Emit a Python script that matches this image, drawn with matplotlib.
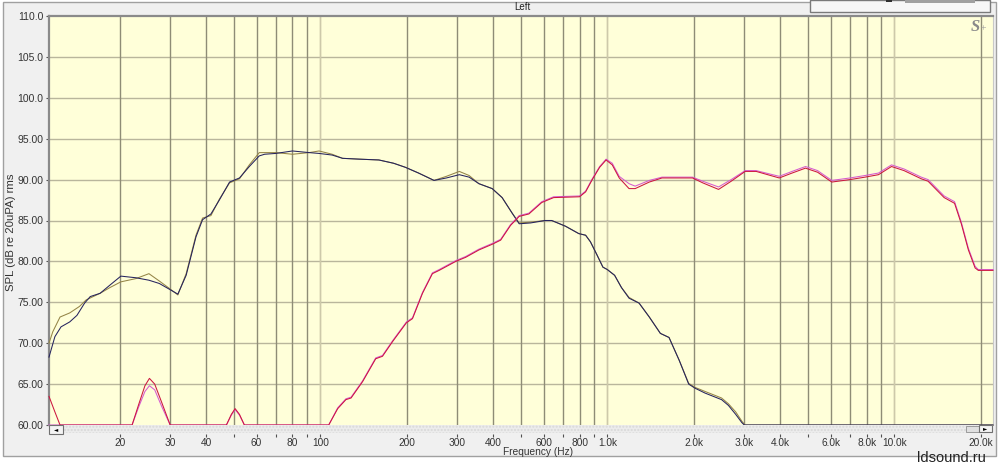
import numpy as np
import matplotlib
matplotlib.use('Agg')
from matplotlib import pyplot as plt
from matplotlib.patches import Rectangle
from matplotlib.ticker import FixedLocator, NullFormatter

plt.rcParams['font.family'] = ['Liberation Sans', 'DejaVu Sans']

# woofer, channel 1 (dark blue)
w1_f = [11.35, 11.9, 12.5, 13.4, 14.2, 15.1, 15.8, 17.1, 18.5, 20.2, 22.8, 25.3, 27.5, 29.8,
        31.9, 34.1, 36.9, 38.9, 41.6, 44.5, 48.3, 52.3, 56.6, 61.3, 64, 70, 80, 91.5, 99,
        110, 119.6, 136.7, 160, 180, 198, 220, 249, 275, 305, 330, 357, 397, 430, 466, 493,
        540, 607, 640, 715, 795, 840, 873, 920, 965, 1000, 1060, 1120, 1190, 1290, 1400,
        1530, 1640, 1780, 1920, 2020, 2190, 2500, 2640, 2800, 2940, 3000, 22050]
w1_db = [68.3, 70.8, 72.0, 72.6, 73.4, 74.9, 75.7, 76.1, 77.1, 78.2, 78.0, 77.7, 77.3, 76.6,
         76.0, 78.3, 83.0, 85.1, 85.8, 87.5, 89.7, 90.2, 91.6, 92.9, 93.1, 93.2, 93.5, 93.3, 93.2,
         93.0, 92.6, 92.5, 92.4, 92.0, 91.5, 90.8, 89.9, 90.2, 90.6, 90.3, 89.5, 88.9, 87.8, 85.9, 84.6,
         84.7, 85.0, 85.0, 84.3, 83.4, 83.2, 82.4, 80.8, 79.3, 79.0, 78.3, 76.8, 75.5, 74.9, 73.2,
         71.2, 70.7, 67.9, 65.0, 64.5, 63.9, 63.1, 62.4, 61.3, 60.3, 60.0, 60.0]

# woofer, channel 2 (olive)
w2_f = [11.35, 11.7, 12.4, 13.4, 14.5, 15.3, 17.1, 18.5, 20.2, 22.8, 25.3, 27.5, 29.8,
        31.9, 34.1, 36.9, 38.9, 41.6, 44.5, 48.3, 52.3, 56.6, 61.3, 70, 80, 91.5, 99,
        110, 119.6, 136.7, 160, 180, 198, 220, 249, 275, 305, 330, 357, 397, 430, 466, 493,
        540, 607, 640, 715, 795, 840, 873, 920, 965, 1000, 1060, 1120, 1190, 1290, 1400,
        1530, 1640, 1780, 1920, 2020, 2190, 2500, 2640, 2800, 2950, 3020, 22050]
w2_db = [70.0, 71.4, 73.2, 73.7, 74.5, 75.3, 76.1, 76.8, 77.5, 77.9, 78.5, 77.6, 76.7,
         75.9, 78.5, 83.2, 85.3, 85.6, 87.6, 89.6, 90.1, 91.8, 93.3, 93.3, 93.1, 93.3, 93.5,
         93.1, 92.6, 92.5, 92.4, 92.0, 91.5, 90.8, 89.9, 90.4, 91.0, 90.5, 89.5, 88.9, 87.8, 85.9, 84.7,
         84.8, 85.0, 85.0, 84.3, 83.4, 83.2, 82.4, 80.8, 79.3, 79.0, 78.3, 76.8, 75.6, 74.9, 73.2,
         71.2, 70.7, 67.9, 65.1, 64.6, 64.1, 63.3, 62.6, 61.6, 60.4, 60.0, 60.0]

# tweeter, channel 1 (red)
t1_f = [11.35, 11.9, 12.4, 22.1, 23.3, 24.5, 25.4, 26.5, 28, 30, 47.1, 49, 50.5, 52.3, 54.4,
        107, 115, 122.8, 128, 140.4, 156, 164.7, 178.6, 199.6, 209.5, 227, 245.8, 259.4,
        296.5, 321, 357, 397.5, 425, 460, 493, 533, 591, 650, 800, 840, 886, 940, 990, 1040,
        1100, 1190, 1250, 1400, 1550, 1980, 2150, 2440, 2700, 3020, 3300, 3970, 4400, 4900,
        5400, 6050, 7000, 7900, 8800, 9770, 10800, 12400, 13100, 14900, 16200, 17100, 18100,
        19100, 19600, 22050]
t1_db = [63.5, 61.6, 60.0, 60.0, 62.5, 64.8, 65.7, 65.0, 62.8, 60.0, 60.0, 61.3, 62.0, 61.3, 60.0,
         60.0, 62.0, 63.1, 63.3, 65.3, 68.1, 68.4, 70.2, 72.5, 73.0, 76.1, 78.5, 78.9,
         80.0, 80.5, 81.4, 82.1, 82.6, 84.4, 85.5, 85.8, 87.2, 87.8, 87.9, 88.5, 90.0, 91.5, 92.4, 91.8,
         90.2, 88.9, 88.9, 89.7, 90.2, 90.2, 89.6, 88.8, 89.8, 91.0, 91.0, 90.2, 90.8, 91.4,
         90.9, 89.7, 90.0, 90.3, 90.6, 91.6, 91.1, 90.1, 89.8, 87.8, 87.1, 84.6, 81.4,
         79.2, 78.9, 78.9]

# tweeter, channel 2 (magenta)
t2_f = [11.35, 22.1, 23.3, 24.5, 25.4, 26.5, 28, 30, 47.1, 49, 50.5, 52.3, 54.4,
        107, 115, 122.8, 128, 140.4, 156, 164.7, 178.6, 199.6, 209.5, 227, 245.8, 259.4,
        296.5, 321, 357, 397.5, 425, 460, 493, 533, 591, 650, 800, 840, 886, 940, 990, 1040,
        1100, 1190, 1250, 1400, 1550, 1980, 2150, 2440, 2700, 3020, 3300, 3970, 4400, 4900,
        5400, 6050, 7000, 7900, 8800, 9770, 10800, 12400, 13100, 14900, 16200, 17100, 18100,
        19100, 19600, 22050]
t2_db = [60.0, 60.0, 62.2, 64.1, 64.8, 64.3, 62.3, 60.0, 60.0, 61.2, 61.9, 61.2, 60.0,
         60.0, 62.1, 63.2, 63.4, 65.4, 68.2, 68.5, 70.3, 72.6, 73.1, 76.2, 78.6, 79.0,
         80.1, 80.6, 81.5, 82.2, 82.7, 84.5, 85.6, 85.9, 87.3, 87.9, 88.0, 88.6, 90.1, 91.6, 92.5, 92.0,
         90.4, 89.5, 89.2, 89.9, 90.3, 90.3, 89.8, 89.1, 90.0, 91.1, 91.1, 90.4, 91.0, 91.6,
         91.1, 89.9, 90.2, 90.5, 90.8, 91.8, 91.3, 90.3, 90.0, 88.0, 87.3, 84.8, 81.6,
         79.4, 79.0, 79.0]

major_f = [20, 30, 40, 60, 80, 100, 200, 300, 400, 600, 800, 1000, 2000, 3000, 4000,
           6000, 8000, 10000, 20000]
major_lab = ['20', '30', '40', '60', '80', '100', '200', '300', '400', '600', '800', '1.0k',
             '2.0k', '3.0k', '4.0k', '6.0k', '8.0k', '10.0k', '20.0k']
minor_f = [50, 70, 90, 500, 700, 900, 5000, 7000, 9000]
light_f = [100, 1000, 10000]
y_ticks = [60, 65, 70, 75, 80, 85, 90, 95, 100, 105, 110]
y_lab = ['60.00', '65.00', '70.00', '75.00', '80.00', '85.00', '90.00', '95.00',
         '100.0', '105.0', '110.0']

W, H = 998, 467
fig = plt.figure(figsize=(W / 100, H / 100), dpi=100, facecolor='white')

# window frame
fig.patches.append(Rectangle((3 / W, 1 - 456 / H), 993 / W, 454 / H, transform=fig.transFigure,
                             facecolor='#f0f0f0', edgecolor='#a0a0a0', lw=1, zorder=-10))
# legend box stub at top right
fig.patches.append(Rectangle((810 / W, 1 - 12 / H), 180 / W, 12 / H, transform=fig.transFigure,
                             facecolor='#f7f7f7', edgecolor='#7a7a7a', lw=1, zorder=1))
fig.patches.append(Rectangle((905 / W, 1 - 3 / H), 70 / W, 3 / H, transform=fig.transFigure,
                             facecolor='#a0a0a0', edgecolor='none', zorder=2))
fig.patches.append(Rectangle((886 / W, 1 - 2 / H), 6 / W, 2 / H, transform=fig.transFigure,
                             facecolor='#303030', edgecolor='none', zorder=2))

ax = fig.add_axes([49 / W, 1 - 425 / H, 944 / W, 409 / H])
ax.set_facecolor('#ffffd9')
ax.set_xscale('log')
ax.set_xlim(11.35, 22050)
ax.set_ylim(60, 110)

# grid
for y in y_ticks[1:-1]:
    ax.axhline(y, color='#b9b69c', lw=1, zorder=1)
for f in major_f + minor_f + light_f:
    c = '#cdc9aa' if f in light_f else '#8e8c76'
    ax.axvline(f, color=c, lw=1, zorder=1)

ax.plot(w2_f, w2_db, color='#948446', lw=0.75, zorder=3, clip_on=False)
ax.plot(w1_f, w1_db, color='#25235e', lw=0.75, zorder=4, clip_on=False)
ax.plot(t2_f, t2_db, color='#d65ad0', lw=0.75, zorder=5, clip_on=False)
ax.plot(t1_f, t1_db, color='#cc1640', lw=0.75, zorder=6, clip_on=False)

ax.set_xticks(major_f)
ax.set_xticklabels(major_lab)
ax.xaxis.set_minor_locator(FixedLocator(minor_f))
ax.xaxis.set_minor_formatter(NullFormatter())
ax.set_yticks(y_ticks)
ax.set_yticklabels(y_lab)

ax.spines['bottom'].set_position(('outward', 6.5))
ax.spines['bottom'].set_color('none')
ax.spines['left'].set_color('#8a8a8a')
ax.spines['left'].set_linewidth(1.6)
ax.spines['top'].set_color('#8a8a8a')
ax.spines['top'].set_linewidth(1.6)
ax.spines['right'].set_color('#c8c8c8')
ax.tick_params(axis='x', which='both', direction='out', length=2.2, width=0.8,
               color='#505050', pad=1, labelsize=7.3, labelcolor='#333333')
ax.tick_params(axis='y', direction='out', length=2, width=0.8, color='#505050',
               pad=2, labelsize=7.5, labelcolor='#333333')

# scroll strip under the plot
fig.patches.append(Rectangle((49 / W, 1 - 433 / H), 944 / W, 8 / H, transform=fig.transFigure,
                             facecolor='#ececec', edgecolor='#d8d8d8', hatch='.....', lw=0,
                             zorder=5))
fig.patches.append(Rectangle((49 / W, 1 - 434 / H), 14 / W, 9 / H, transform=fig.transFigure,
                             facecolor='#f4f4f4', edgecolor='#707070', lw=0.8, zorder=6))
fig.patches.append(Rectangle((966 / W, 1 - 432 / H), 13 / W, 6 / H, transform=fig.transFigure,
                             facecolor='#e0e0e0', edgecolor='#909090', lw=0.6, zorder=6))
fig.patches.append(Rectangle((979 / W, 1 - 432 / H), 13 / W, 7 / H, transform=fig.transFigure,
                             facecolor='#f4f4f4', edgecolor='#707070', lw=0.8, zorder=6))
fig.text(56 / W, 1 - 429.5 / H, '\u25c4', fontsize=4, ha='center', va='center',
         family='DejaVu Sans', zorder=7)
fig.text(985.5 / W, 1 - 428.5 / H, '\u25ba', fontsize=4, ha='center', va='center',
         family='DejaVu Sans', zorder=7)

fig.text(522 / W, 1 - 7 / H, 'Left', fontsize=7, ha='center', va='center', color='#222222')
fig.text(538 / W, 1 - 452 / H, 'Frequency (Hz)', fontsize=7.3, ha='center', va='center',
         color='#333333')
fig.text(11 / W, 1 - 232 / H, 'SPL (dB re 20uPA) rms', fontsize=8.2, rotation=90,
         ha='center', va='center', color='#333333')
fig.text(975 / W, 1 - 27 / H, 'S', fontsize=12, ha='center', va='center', color='#8a8a8a',
         family='Liberation Serif', style='italic', weight='bold')
fig.text(983 / W, 1 - 29 / H, '+', fontsize=7, ha='center', va='center', color='#9a9a9a',
         family='Liberation Serif')
fig.text(951 / W, 1 - 458 / H, 'ldsound.ru', fontsize=10.5, ha='center', va='center',
         color='#222222', zorder=8)

fig.savefig('out.png', dpi=100, facecolor=fig.get_facecolor())
